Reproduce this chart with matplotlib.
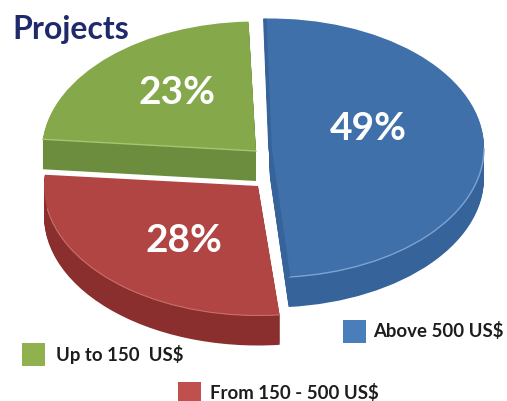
import numpy as np
import matplotlib
matplotlib.use("Agg")
import matplotlib.pyplot as plt
from matplotlib.patches import Rectangle, Arc

plt.rcParams['font.family'] = ['Lato', 'DejaVu Sans']

# Data
labels = ["Above 500 US$", "Up to 150  US$", "From 150 - 500 US$"]
shares = [49, 23, 28]
pct_labels = ["49%", "23%", "28%"]

# Colours: top face, side, rim highlight, legend swatch
top_colors = ["#3f70a9", "#85a84b", "#b04543"]
side_colors = ["#35639a", "#6c8d3d", "#8a2f2d"]
rim_colors = ["#7fa3d0", "#a9c471", "#c9706c"]
swatch_colors = ["#4a7ebb", "#8fb24f", "#c0504d"]

# Layout in image pixels
W, H = 507, 401
RX, RY = 214.0, 129.5
DEPTH = 30
centers = [(270, 148), (256, 151), (258, 186)]
start_angles = [-85, 92, 175]
pct_pos = [(368, 129), (177, 92), (184, 240)]
swatch_pos = [(343, 320), (21.5, 343), (178, 382)]
legend_text_pos = [(373, 331), (56, 355), (210, 393)]


def px(x, y):
    # image pixels -> data units, so a radius 1 pie lands on the squashed ellipse
    return x / RX, -y / RY


fig = plt.figure(figsize=(W / 100, H / 100), dpi=100)
ax = fig.add_axes([0, 0, 1, 1])

for i in range(3):
    frac = shares[i] / 100
    cx, cy = centers[i]
    # side wall, stacked from the bottom up
    for d in np.arange(DEPTH, 0, -1):
        ax.pie([frac], normalize=False, startangle=start_angles[i], center=px(cx, cy + d),
               radius=1, colors=[side_colors[i]], wedgeprops={"linewidth": 0})
    ax.pie([frac], normalize=False, startangle=start_angles[i], center=px(cx, cy),
           radius=1, colors=[top_colors[i]], wedgeprops={"linewidth": 0})

    # light rim where top face meets the side
    c = px(cx, cy)
    if i == 0:
        ax.add_patch(Arc(c, 2, 2, theta1=start_angles[0], theta2=0,
                         color=rim_colors[0], lw=1))
        # darker strip down the cut edge of the blue slice
        a1 = np.deg2rad(start_angles[0])
        a2 = np.deg2rad(start_angles[0] + shares[0] * 3.6)
        ax.plot([c[0] + np.cos(a2), c[0], c[0] + np.cos(a1)],
                [c[1] + np.sin(a2), c[1], c[1] + np.sin(a1)],
                color=side_colors[0], lw=2.5, solid_capstyle="butt")
    elif i == 2:
        ax.add_patch(Arc(c, 2, 2, theta1=190, theta2=start_angles[2] + shares[2] * 3.6,
                         color=rim_colors[2], lw=0.8))
    else:
        a = np.deg2rad(start_angles[1] + shares[1] * 3.6)
        ax.plot([c[0], c[0] + np.cos(a)], [c[1], c[1] + np.sin(a)],
                color=rim_colors[1], lw=1)

    tx, ty = px(*pct_pos[i])
    ax.text(tx, ty, pct_labels[i], color="white", fontsize=28, fontweight="bold",
            ha="center", va="center")

    sx, sy = px(*swatch_pos[i])
    ax.add_patch(Rectangle((sx, sy), 23 / RX, -23 / RY, facecolor=swatch_colors[i],
                           edgecolor="none", clip_on=True))
    lx, ly = px(*legend_text_pos[i])
    ax.text(lx, ly, labels[i], color="#1d1d1d", fontsize=13.4, fontweight="bold",
            ha="left", va="center")

tx, ty = px(12, 30)
ax.text(tx, ty, "Projects", color="#1f2a6b", fontsize=23, fontweight="bold",
        ha="left", va="center")

ax.set_aspect("auto")
ax.set_xlim(0, W / RX)
ax.set_ylim(-H / RY, 0)
ax.axis("off")

fig.savefig("out.png", dpi=100, facecolor="white")
